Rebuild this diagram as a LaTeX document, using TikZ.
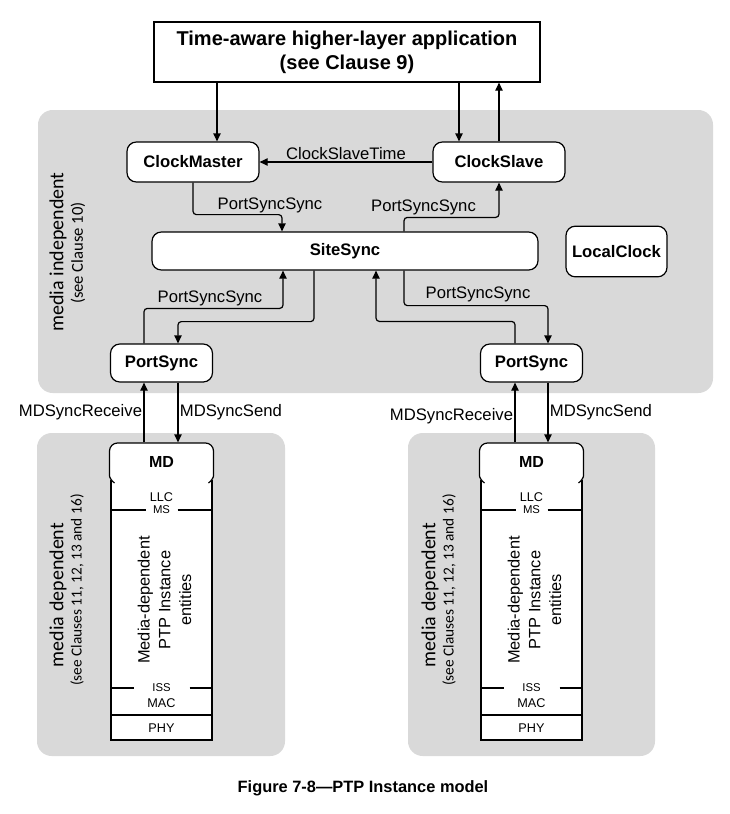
\documentclass[tikz,border=0pt]{standalone}
\usepackage{fontspec}
\setmainfont{Liberation Sans}
\newfontfamily\calibri{Carlito}
\usepackage{tikz}
\usetikzlibrary{arrows.meta, positioning, calc}
\definecolor{grisfond}{RGB}{217,217,217}

\begin{document}
\begin{tikzpicture}[x=0.75pt, y=-0.75pt, line width=0.9pt,
  >={Triangle[length=6pt, width=5.5pt]},
  bloc/.style={draw, fill=white, rounded corners=7pt, inner sep=0pt,
    font=\bfseries\fontsize{12.5}{15}\selectfont},
  etiq/.style={font=\fontsize{12.5}{15}\selectfont, inner sep=1pt},
  fleche/.style={->, rounded corners=2.5pt},
  zone/.style={fill=grisfond, rounded corners=11pt},
  couche/.style={font=\fontsize{9.5}{11}\selectfont, inner sep=1pt},
  petit/.style={font=\fontsize{8.5}{10}\selectfont, inner sep=1pt},
  cote/.style={rotate=90}]
  \useasboundingbox (0,0) rectangle (729,814);

  % Zones grises
  \fill[zone] (38,110) rectangle (713,393);
  \fill[zone] (37,433) rectangle (285,756);
  \fill[zone] (408,433) rectangle (655,756);
  \node[cote, font=\calibri\fontsize{15}{18}\selectfont] (indep) at (58,252) {media independent};
  \node[cote, font=\calibri\fontsize{12.5}{15}\selectfont] (indepref) at (78,253) {(see Clause 10)};
  \node[cote, font=\calibri\fontsize{15}{18}\selectfont] (depl) at (58,595) {media dependent};
  \node[cote, font=\calibri\fontsize{11.5}{14}\selectfont] (deplref) at (77,590) {(see Clauses 11, 12, 13 and 16)};
  \node[cote, font=\calibri\fontsize{15}{18}\selectfont] (depr) at (430,595) {media dependent};
  \node[cote, font=\calibri\fontsize{11.5}{14}\selectfont] (deprref) at (449,590) {(see Clauses 11, 12, 13 and 16)};

  % Application
  \node[draw, fill=white, minimum width=289.5pt, minimum height=45pt, align=center,
    font=\bfseries\fontsize{15}{18}\selectfont] (app) at (347,52)
    {Time-aware higher-layer application\\(see Clause 9)};

  % Blocs
  \node[bloc, minimum width=99pt, minimum height=30pt] (cm) at (193,162) {ClockMaster};
  \node[bloc, minimum width=99pt, minimum height=30pt] (cs) at (499,162) {ClockSlave};
  \node[bloc, minimum width=289.5pt, minimum height=28.5pt] (ss) at (345,251) {SiteSync};
  \node[bloc, minimum width=75.75pt, minimum height=38pt] (lc) at (616.5,251.5) {LocalClock};
  \node[bloc, minimum width=76.5pt, minimum height=28.5pt] (psl) at (161.5,363) {PortSync};
  \node[bloc, minimum width=76.5pt, minimum height=28.5pt] (psr) at (531.5,363) {PortSync};

  % Piles MD
  \foreach \cx/\nom in {161.5/mdl, 531.5/mdr} {
    \path[draw, fill=white] ({\cx-46},481) -- ({\cx-50.5},481) -- ({\cx-50.5},740)
      -- ({\cx+50.5},740) -- ({\cx+50.5},481) -- ({\cx+46},481);
    \path[draw, fill=white, rounded corners=6pt] ({\cx-47},483)
      .. controls ({\cx-50},481) and ({\cx-52},477) .. ({\cx-52},468)
      -- ({\cx-52},443) -- ({\cx+52},443) -- ({\cx+52},468)
      .. controls ({\cx+52},477) and ({\cx+50},481) .. ({\cx+47},483);
    \node[font=\bfseries\fontsize{12}{14}\selectfont, minimum width=75.75pt,
      minimum height=27.75pt, inner sep=0pt] (\nom) at (\cx,461.5) {MD};
    \draw ({\cx-50.5},510) -- ({\cx-16},510) ({\cx+16},510) -- ({\cx+50.5},510);
    \draw ({\cx-50.5},688) -- ({\cx-28},688) ({\cx+28},688) -- ({\cx+50.5},688);
    \draw ({\cx-50.5},715) -- ({\cx+50.5},715);
    \node[couche] (llc\nom) at (\cx,497) {LLC};
    \node[petit] (ms\nom) at (\cx,510) {MS};
    \node[rotate=90, align=center, font=\fontsize{12.3}{15.5}\selectfont] (ent\nom)
      at ({\cx+3},600) {Media-dependent\\PTP Instance\\entities};
    \node[petit] (iss\nom) at (\cx,688) {ISS};
    \node[couche] (mac\nom) at (\cx,703) {MAC};
    \node[couche] (phy\nom) at (\cx,728) {PHY};
  }

  % Liaisons
  \draw[fleche] ([shift={(24,0)}]cm.north |- app.south) -- ([shift={(24,0)}]cm.north);
  \draw[fleche] ([shift={(-40,0)}]cs.north |- app.south) -- ([shift={(-40,0)}]cs.north);
  \draw[fleche] (cs.north) -- (cs.north |- app.south);
  \draw[fleche] (cs.west) -- node[etiq, above] (lcst) {ClockSlaveTime} (cm.east);
  \draw[fleche] (cm.south) -- ++(0,32) -| ([shift={(-63,0)}]ss.north);
  \draw[fleche] ([shift={(59,0)}]ss.north) -- ++(0,-14) -| (cs.south);
  \draw[fleche] ([shift={(-17.5,0)}]psl.north) -- ++(0,-35) -| ([shift={(-62,0)}]ss.south);
  \draw[fleche] ([shift={(-31,0)}]ss.south) -- ++(0,51) -| ([shift={(16.5,0)}]psl.north);
  \draw[fleche] ([shift={(59,0)}]ss.south) -- ++(0,35) -| ([shift={(16.5,0)}]psr.north);
  \draw[fleche] ([shift={(-16.5,0)}]psr.north) -- ++(0,-22) -| ([shift={(31,0)}]ss.south);
  \node[etiq] (lpss1) at (270,205) {PortSyncSync};
  \node[etiq] (lpss2) at (423.5,207) {PortSyncSync};
  \node[etiq] (lpss3) at (210,298) {PortSyncSync};
  \node[etiq] (lpss4) at (478,294) {PortSyncSync};

  % MD <-> PortSync
  \draw[fleche] ([shift={(-17.5,0)}]mdl.north) -- node[etiq, left] (rxl) {MDSyncReceive} ([shift={(-17.5,0)}]psl.south);
  \draw[fleche] ([shift={(16.5,0)}]psl.south) -- node[etiq, right] (txl) {MDSyncSend} ([shift={(16.5,0)}]mdl.north);
  \draw[fleche] ([shift={(-16.5,0)}]mdr.north) -- node[etiq, left, yshift=-3pt] (rxr) {MDSyncReceive} ([shift={(-16.5,0)}]psr.south);
  \draw[fleche] ([shift={(16.5,0)}]psr.south) -- node[etiq, right] (txr) {MDSyncSend} ([shift={(16.5,0)}]mdr.north);

  % Legende
  \node[font=\bfseries\fontsize{12.3}{15}\selectfont] (legende) at (363,788) {Figure 7-8---PTP Instance model};
\end{tikzpicture}
\end{document}
